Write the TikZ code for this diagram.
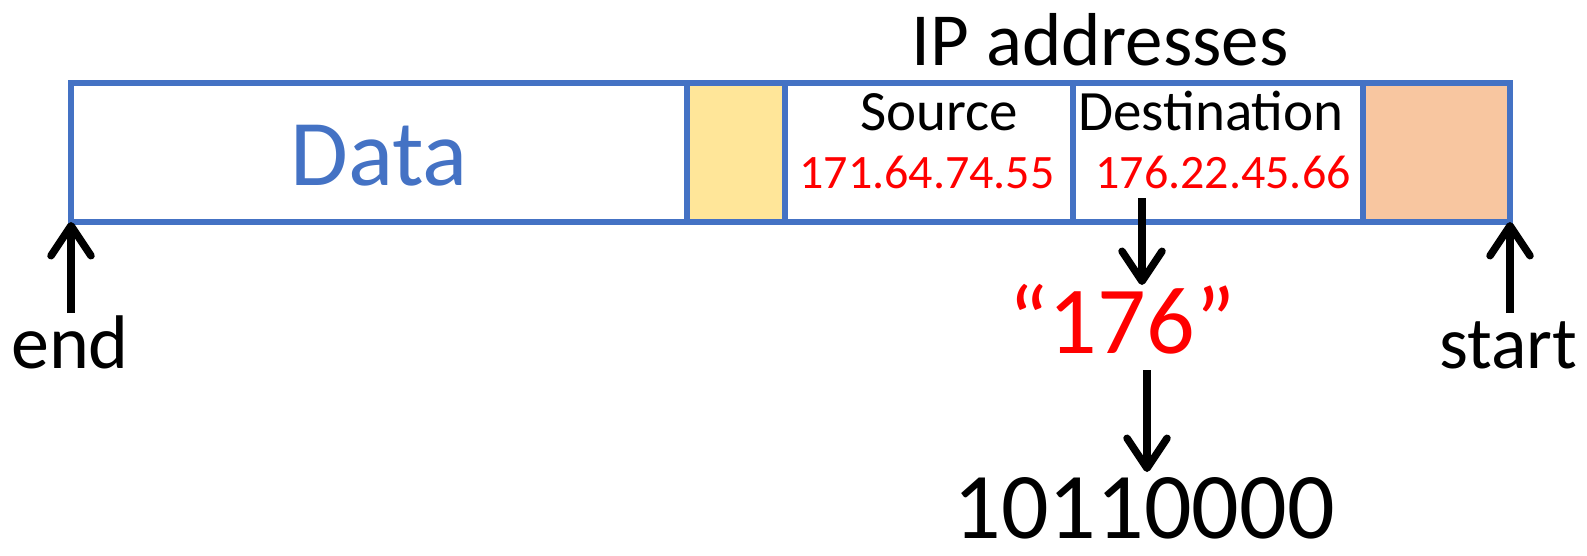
\documentclass[tikz,border=0pt]{standalone}
\usepackage{fontspec}
\setmainfont{Carlito}
\usetikzlibrary{arrows.meta}
\definecolor{frameblue}{HTML}{4472C4}
\definecolor{hdryellow}{HTML}{FFE699}
\definecolor{hdrorange}{HTML}{F8C6A0}
\definecolor{addrred}{HTML}{FF0000}
\newcommand\fsz[1]{\fontsize{#1}{#1}\selectfont}
\tikzset{
  cell/.style={draw=frameblue, line width=5.5pt, inner sep=0pt, outer sep=0pt,
               minimum height=139pt, anchor=north west},
  lbl/.style={inner sep=0pt, anchor=base},
  arr/.style={line width=7.5pt, -{Straight Barb[length=30pt,width=40pt,round]}},
}
\begin{document}
\begin{tikzpicture}[x=1pt,y=-1pt]
  \useasboundingbox (0,0) rectangle (1587,555);

  % packet fields
  \node[cell, minimum width=616pt] (data) at (71,83) {};
  \node[cell, minimum width=98pt, fill=hdryellow] (hdr) at (687,83) {};
  \node[cell, minimum width=288pt] (src) at (785,83) {};
  \node[cell, minimum width=290pt] (dst) at (1073,83) {};
  \node[cell, minimum width=147pt, fill=hdrorange] (trl) at (1363,83) {};

  % labels
  \node[lbl] (title) at (1100,65) {\fsz{75}IP addresses};
  \node[lbl, text=frameblue] (datalbl) at (379,185) {\fsz{94}Data};
  \node[lbl] (srclbl) at (939,130) {\fsz{57}Source};
  \node[lbl, text=addrred] (srcnum) at (927,188) {\fsz{48}171.64.74.55};
  \node[lbl] (dstlbl) at (1211,130) {\fsz{57}Destination};
  \node[lbl, text=addrred] (dstnum) at (1223,188) {\fsz{48}176.22.45.66};
  \node[lbl, text=addrred] (octet) at (1122,353) {\fsz{96}“176”};
  \node[lbl] (bits) at (1144,538) {\fsz{94}10110000};
  \node[lbl] (endlbl) at (70,368) {\fsz{76}end};
  \node[lbl] (startlbl) at (1508,368) {\fsz{74}start};

  % arrows
  \coordinate (endtail) at (71,313);
  \coordinate (starttail) at (1510,313);
  \coordinate (octtail) at (1142,198);
  \coordinate (octtip) at (1142,285);
  \coordinate (bintail) at (1147,370);
  \coordinate (bintip) at (1147,472);
  \draw[arr] (endtail) -- (data.south west);
  \draw[arr] (starttail) -- (trl.south east);
  \draw[arr] (octtail) -- (octtip);
  \draw[arr] (bintail) -- (bintip);
\end{tikzpicture}
\end{document}
